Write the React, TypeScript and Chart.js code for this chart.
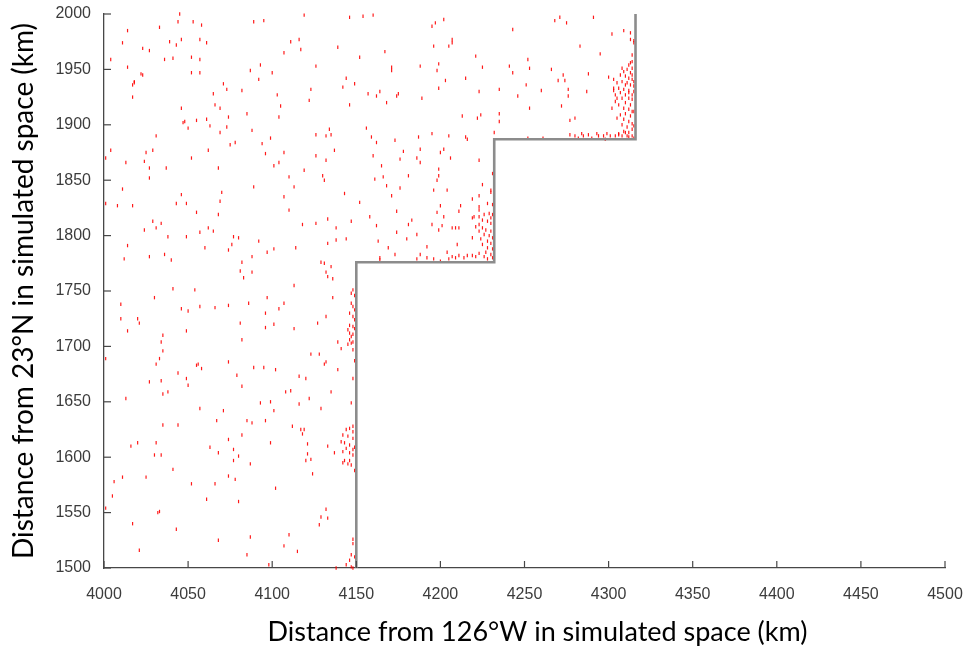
import React, { useEffect, useRef } from "react";
import { Chart, registerables } from "chart.js";

Chart.register(...registerables);

// Axis extents and tick spacing (km)
const EAST_MIN = 4000;
const EAST_MAX = 4500;
const NORTH_MIN = 1500;
const NORTH_MAX = 2000;
const TICK_STEP = 50;

const X_TITLE = "Distance from 126°W in simulated space (km)";
const Y_TITLE = "Distance from 23°N in simulated space (km)";

// Stepped coastline (east km, north km)
const coastEast = [4150, 4150, 4232, 4232, 4316, 4316];
const coastNorth = [1500, 1776, 1776, 1887, 1887, 2000];

// Positions as [east km, north km]
// Scattered positions, western upper half
const inlandNorthWest: [number, number][] = [
  [4045, 2000], [4044, 1993], [4053, 1993], [4058, 1990], [4089, 1993], [4095, 1994], [4014, 1985], [4033, 1988],
  [4011, 1974], [4039, 1975], [4046, 1977], [4043, 1972], [4057, 1977], [4061, 1974], [4023, 1969], [4027, 1967],
  [4004, 1959], [4036, 1959], [4041, 1960], [4052, 1961], [4057, 1959], [4014, 1952], [4022, 1946], [4023, 1945],
  [4052, 1947], [4057, 1947], [4087, 1949], [4093, 1954], [4100, 1947], [4018, 1939], [4018, 1938], [4017, 1936],
  [4092, 1941], [4071, 1937], [4073, 1932], [4082, 1931], [4017, 1925], [4065, 1928], [4103, 1927], [4066, 1918],
  [4069, 1915], [4046, 1915], [4085, 1910], [4074, 1907], [4061, 1905], [4055, 1904], [4048, 1903], [4047, 1902],
  [4063, 1899], [4073, 1898], [4050, 1897], [4069, 1893], [4088, 1895], [4104, 1907], [4031, 1890], [4078, 1884],
  [4075, 1882], [4094, 1883], [4099, 1888], [4004, 1877], [4001, 1870], [4025, 1875], [4029, 1877], [4062, 1877],
  [4052, 1870], [4096, 1874], [4013, 1866], [4024, 1867], [4027, 1861], [4037, 1861], [4068, 1861], [4101, 1863],
  [4104, 1866], [4027, 1852], [4011, 1842], [4089, 1844], [4070, 1839], [4046, 1837], [4001, 1829], [4008, 1827],
  [4017, 1827], [4043, 1829], [4049, 1829], [4069, 1831], [4055, 1821], [4068, 1819], [4029, 1813], [4034, 1811],
  [4024, 1805], [4031, 1807], [4057, 1803], [4062, 1807], [4065, 1804], [4038, 1799], [4049, 1799], [4077, 1799],
  [4080, 1798], [4092, 1795], [4014, 1791], [4060, 1789], [4076, 1792], [4074, 1787], [4097, 1785], [4101, 1788],
  [4012, 1779], [4027, 1781], [4036, 1783], [4040, 1778], [4088, 1781], [4082, 1776], [4088, 1767], [4081, 1768],
  [4083, 1762],
];

// Scattered positions, western lower half
const inlandSouthWest: [number, number][] = [
  [4041, 1752], [4054, 1751], [4030, 1744], [4010, 1738], [4046, 1734], [4050, 1732], [4057, 1736], [4066, 1735],
  [4074, 1737], [4086, 1739], [4097, 1744], [4104, 1734], [4096, 1730], [4010, 1725], [4020, 1725], [4021, 1721],
  [4014, 1714], [4035, 1710], [4049, 1714], [4081, 1721], [4096, 1717], [4101, 1720], [4082, 1706], [4034, 1704],
  [4035, 1696], [4001, 1689], [4033, 1689], [4031, 1684], [4055, 1683], [4056, 1684], [4058, 1680], [4074, 1686],
  [4089, 1681], [4095, 1681], [4102, 1679], [4044, 1676], [4079, 1674], [4049, 1671], [4027, 1668], [4034, 1669],
  [4050, 1665], [4082, 1664], [4038, 1659], [4035, 1657], [4013, 1653], [4093, 1649], [4099, 1650], [4101, 1642],
  [4057, 1644], [4071, 1642], [4067, 1633], [4085, 1633], [4088, 1631], [4096, 1633], [4035, 1629], [4044, 1629],
  [4082, 1620], [4074, 1616], [4099, 1613], [4016, 1610], [4020, 1613], [4031, 1613], [4063, 1609], [4077, 1607],
  [4068, 1604], [4080, 1601], [4030, 1602], [4034, 1602], [4077, 1597], [4087, 1594], [4041, 1589], [4006, 1578],
  [4011, 1582], [4025, 1582], [4074, 1583], [4078, 1580], [4052, 1576], [4066, 1576], [4102, 1572], [4005, 1565],
  [4061, 1562], [4080, 1560], [4001, 1554], [4032, 1550], [4033, 1551], [4017, 1540], [4043, 1535], [4087, 1528],
  [4068, 1525], [4021, 1516], [4085, 1512], [4098, 1503],
];

// Scattered positions, central band above the middle step
const inlandCentral: [number, number][] = [
  [4119, 1999], [4146, 1997], [4154, 1998], [4160, 1999], [4202, 1995], [4197, 1992], [4195, 1989], [4207, 1977],
  [4207, 1974], [4205, 1971], [4196, 1971], [4111, 1975], [4116, 1977], [4107, 1965], [4117, 1968], [4139, 1970],
  [4167, 1966], [4152, 1961], [4126, 1953], [4171, 1952], [4171, 1949], [4188, 1953], [4199, 1955], [4198, 1949],
  [4203, 1940], [4144, 1942], [4149, 1937], [4142, 1934], [4123, 1932], [4122, 1922], [4157, 1928], [4162, 1926],
  [4164, 1930], [4174, 1926], [4175, 1928], [4168, 1920], [4189, 1924], [4199, 1933], [4105, 1917], [4146, 1918],
  [4134, 1896], [4126, 1891], [4132, 1890], [4135, 1891], [4156, 1897], [4159, 1889], [4162, 1884], [4173, 1886],
  [4187, 1889], [4195, 1892], [4205, 1890], [4107, 1875], [4126, 1872], [4132, 1868], [4137, 1877], [4160, 1872],
  [4178, 1876], [4176, 1869], [4188, 1878], [4186, 1870], [4188, 1866], [4202, 1878], [4200, 1875], [4206, 1870],
  [4119, 1859], [4130, 1854], [4131, 1850], [4110, 1853], [4113, 1844], [4165, 1863], [4161, 1851], [4166, 1853],
  [4168, 1845], [4181, 1854], [4176, 1843], [4199, 1860], [4199, 1854], [4198, 1850], [4196, 1841], [4204, 1841],
  [4107, 1835], [4143, 1838], [4152, 1830], [4171, 1836], [4110, 1823], [4174, 1822], [4200, 1827], [4198, 1821],
  [4211, 1822], [4118, 1810], [4126, 1811], [4133, 1815], [4138, 1807], [4147, 1813], [4158, 1817], [4162, 1809],
  [4181, 1810], [4183, 1814], [4195, 1810], [4199, 1805], [4201, 1809], [4202, 1817], [4207, 1807], [4209, 1807],
  [4211, 1807], [4174, 1803], [4138, 1796], [4144, 1797], [4133, 1793], [4163, 1795], [4180, 1797], [4186, 1801],
  [4114, 1789], [4169, 1789], [4192, 1790], [4204, 1785], [4210, 1792], [4173, 1783], [4188, 1783], [4186, 1779],
  [4192, 1780], [4196, 1779], [4200, 1777], [4205, 1779], [4207, 1781], [4209, 1780], [4211, 1782], [4164, 1780],
  [4164, 1778], [4129, 1776], [4131, 1775], [4135, 1772], [4132, 1767], [4133, 1763],
];

// Scattered positions, north-east strip
const inlandNorthEast: [number, number][] = [
  [4268, 1994], [4271, 1997], [4275, 1992], [4291, 1997], [4243, 1986], [4302, 1982], [4309, 1985], [4313, 1983],
  [4313, 1977], [4315, 1976], [4315, 1974], [4283, 1971], [4295, 1964], [4221, 1962], [4252, 1959], [4225, 1952],
  [4241, 1953], [4253, 1951], [4243, 1947], [4266, 1950], [4215, 1942], [4270, 1940], [4273, 1945], [4274, 1940],
  [4288, 1946], [4300, 1943], [4251, 1936], [4235, 1932], [4223, 1930], [4260, 1931], [4276, 1932], [4276, 1926],
  [4287, 1930], [4246, 1926], [4272, 1917], [4253, 1915], [4213, 1908], [4222, 1906], [4224, 1909], [4235, 1910],
  [4235, 1903], [4277, 1904], [4280, 1906], [4232, 1893], [4215, 1889], [4216, 1887], [4252, 1888], [4261, 1888],
  [4277, 1891], [4280, 1890], [4282, 1888], [4284, 1892], [4285, 1890], [4288, 1891], [4290, 1888], [4293, 1892],
  [4294, 1890], [4297, 1890], [4299, 1892], [4301, 1890], [4304, 1890], [4306, 1892], [4308, 1890], [4310, 1893],
  [4312, 1889], [4315, 1888], [4298, 1887],
];

// Dense group against the northern coast segment
const shoreClusterNorth: [number, number][] = [
  [4314, 1963], [4314, 1957], [4313, 1956], [4312, 1954], [4314, 1951], [4311, 1950], [4309, 1948], [4313, 1947],
  [4314, 1945], [4307, 1945], [4310, 1944], [4312, 1942], [4314, 1941], [4303, 1941], [4305, 1938], [4308, 1939],
  [4311, 1938], [4313, 1936], [4315, 1935], [4306, 1933], [4309, 1932], [4312, 1931], [4303, 1931], [4307, 1929],
  [4310, 1927], [4314, 1927], [4304, 1927], [4308, 1924], [4312, 1924], [4314, 1923], [4304, 1921], [4310, 1920],
  [4313, 1918], [4306, 1918], [4309, 1915], [4312, 1914], [4314, 1912], [4307, 1909], [4310, 1910], [4313, 1908],
  [4309, 1905], [4312, 1903], [4314, 1901], [4308, 1900], [4311, 1898], [4314, 1896], [4309, 1894], [4312, 1893],
  [4306, 1891], [4314, 1890], [4311, 1890], [4302, 1915], [4305, 1906], [4303, 1933], [4308, 1951], [4315, 1930],
  [4315, 1912], [4315, 1899], [4315, 1939], [4310, 1936], [4305, 1924], [4312, 1929],
];

// Dense group against the middle coast segment
const shoreClusterMiddle: [number, number][] = [
  [4231, 1856], [4230, 1841], [4230, 1839], [4225, 1846], [4223, 1836], [4219, 1833], [4228, 1829], [4231, 1828],
  [4220, 1817], [4219, 1816], [4223, 1817], [4226, 1819], [4229, 1820], [4231, 1819], [4225, 1814], [4228, 1813],
  [4230, 1811], [4232, 1810], [4223, 1810], [4225, 1807], [4227, 1805], [4230, 1804], [4232, 1805], [4223, 1804],
  [4226, 1801], [4229, 1800], [4231, 1798], [4219, 1798], [4224, 1797], [4228, 1795], [4230, 1793], [4225, 1792],
  [4228, 1789], [4231, 1788], [4227, 1785], [4230, 1783], [4223, 1784], [4226, 1781], [4231, 1780], [4228, 1779],
  [4232, 1778], [4221, 1781], [4219, 1782], [4216, 1782], [4214, 1780], [4223, 1826], [4230, 1816], [4223, 1823],
  [4221, 1808], [4223, 1868], [4212, 1827],
];

// Scattered positions west of the southern coast segment
const inlandSouthCentral: [number, number][] = [
  [4136, 1761], [4113, 1755], [4136, 1744], [4107, 1739], [4132, 1727], [4127, 1721], [4113, 1716], [4139, 1704],
  [4141, 1698], [4123, 1693], [4128, 1693], [4131, 1684], [4132, 1686], [4139, 1679], [4116, 1673], [4120, 1671],
  [4108, 1659], [4111, 1660], [4135, 1659], [4122, 1653], [4116, 1648], [4129, 1644], [4147, 1649], [4112, 1628],
  [4117, 1625], [4118, 1621], [4119, 1625], [4121, 1612], [4133, 1610], [4137, 1604], [4121, 1603], [4123, 1598],
  [4120, 1597], [4124, 1585], [4132, 1553], [4129, 1546], [4133, 1545], [4128, 1539], [4110, 1530], [4107, 1520],
  [4115, 1515], [4138, 1500],
];

// Dense groups against the southern coast segment
const shoreClusterSouth: [number, number][] = [
  [4148, 1751], [4147, 1748], [4149, 1746], [4147, 1739], [4148, 1736], [4149, 1733], [4146, 1730], [4148, 1727],
  [4149, 1724], [4146, 1719], [4148, 1718], [4149, 1716], [4145, 1715], [4146, 1712], [4148, 1711], [4147, 1709],
  [4146, 1706], [4148, 1704], [4145, 1702], [4147, 1703], [4148, 1697], [4149, 1687], [4148, 1671], [4150, 1715],
  [4148, 1628], [4146, 1626], [4144, 1625], [4148, 1623], [4142, 1620], [4145, 1619], [4148, 1617], [4141, 1614],
  [4143, 1613], [4146, 1611], [4149, 1609], [4144, 1608], [4148, 1607], [4142, 1605], [4146, 1604], [4148, 1602],
  [4143, 1597], [4146, 1597], [4150, 1596], [4147, 1593], [4149, 1588], [4142, 1595], [4145, 1594],
  [4150, 1529], [4148, 1526], [4148, 1522], [4147, 1512], [4149, 1510], [4146, 1507], [4150, 1504], [4144, 1503],
  [4147, 1501], [4148, 1500],
];

const AXIS_COLOR = "#474747";
const TICK_LABEL_COLOR = "#3c3c3c";
const TICK_FONT = { family: "'Liberation Sans', Arial, sans-serif", size: 16 };

// Short tick marks pointing into the plotting area
const inwardTicks = {
  id: "inwardTicks",
  afterDraw(chart: any) {
    const { ctx, scales } = chart;
    const xs = scales.x;
    const ys = scales.y;
    ctx.save();
    ctx.strokeStyle = AXIS_COLOR;
    ctx.lineWidth = 1.2;
    xs.ticks.forEach((t: any) => {
      const px = xs.getPixelForValue(t.value);
      ctx.beginPath();
      ctx.moveTo(px, xs.top);
      ctx.lineTo(px, xs.top - 7);
      ctx.stroke();
    });
    ys.ticks.forEach((t: any) => {
      const py = ys.getPixelForValue(t.value);
      ctx.beginPath();
      ctx.moveTo(ys.right, py);
      ctx.lineTo(ys.right + 7, py);
      ctx.stroke();
    });
    ctx.restore();
  },
};

// Axis titles in a large humanist face
const axisTitles = {
  id: "axisTitles",
  afterDraw(chart: any) {
    const { ctx, chartArea } = chart;
    ctx.save();
    ctx.fillStyle = "#000";
    ctx.textAlign = "center";
    ctx.textBaseline = "alphabetic";
    ctx.font = "27px Lato, 'Open Sans', sans-serif";
    ctx.fillText(X_TITLE, (chartArea.left + chartArea.right) / 2 + 13, 641);
    ctx.font = "28px Lato, 'Open Sans', sans-serif";
    ctx.translate(33, (chartArea.top + chartArea.bottom) / 2);
    ctx.rotate(-Math.PI / 2);
    ctx.fillText(Y_TITLE, 0, 0);
    ctx.restore();
  },
};

const plainNumber = (value: any) => String(value);

export default function App() {
  const canvasRef = useRef<HTMLCanvasElement | null>(null);

  useEffect(() => {
    const canvas = canvasRef.current;
    if (!canvas) return;

    const positions = [
      ...inlandNorthWest,
      ...inlandSouthWest,
      ...inlandCentral,
      ...inlandNorthEast,
      ...shoreClusterNorth,
      ...shoreClusterMiddle,
      ...inlandSouthCentral,
      ...shoreClusterSouth,
    ].map(([x, y]) => ({ x, y }));

    const coast = coastEast.map((x, i) => ({ x, y: coastNorth[i] }));

    const chart = new Chart(canvas, {
      type: "scatter",
      data: {
        datasets: [
          {
            label: "Coastline",
            data: coast,
            showLine: true,
            borderColor: "#8c8c8c",
            borderWidth: 2.6,
            pointRadius: 0,
            fill: false,
            tension: 0,
          } as any,
          {
            label: "Positions",
            data: positions,
            pointStyle: "line",
            rotation: 90,
            pointRadius: 1.7,
            borderColor: "rgba(255, 0, 0, 0.9)",
            backgroundColor: "rgba(255, 0, 0, 0.9)",
            borderWidth: 1.2,
            clip: false,
          } as any,
        ],
      },
      options: {
        responsive: false,
        animation: false,
        events: [],
        layout: { padding: { top: 14, right: 20, left: 0, bottom: 0 } },
        plugins: {
          legend: { display: false },
          tooltip: { enabled: false },
          title: { display: false },
        },
        scales: {
          x: {
            type: "linear",
            min: EAST_MIN,
            max: EAST_MAX,
            grid: { display: false },
            border: { display: true, color: AXIS_COLOR, width: 1.3 },
            ticks: {
              stepSize: TICK_STEP,
              color: TICK_LABEL_COLOR,
              font: TICK_FONT,
              padding: 9,
              maxRotation: 0,
              autoSkip: false,
              callback: plainNumber,
            },
            afterFit(scale: any) {
              scale.height = 82;
              scale.paddingLeft = 0;
              scale.paddingRight = 0;
            },
          },
          y: {
            type: "linear",
            min: NORTH_MIN,
            max: NORTH_MAX,
            grid: { display: false },
            border: { display: true, color: AXIS_COLOR, width: 1.3 },
            ticks: {
              stepSize: TICK_STEP,
              color: TICK_LABEL_COLOR,
              font: TICK_FONT,
              padding: 5,
              autoSkip: false,
              callback: plainNumber,
            },
            afterFit(scale: any) {
              scale.width = 104;
              scale.paddingTop = 0;
              scale.paddingBottom = 0;
            },
          },
        },
      },
      plugins: [inwardTicks, axisTitles],
    });

    return () => chart.destroy();
  }, []);

  return (
    <div
      style={{
        position: "absolute",
        left: 0,
        top: 0,
        width: 965,
        height: 650,
        background: "#ffffff",
        overflow: "hidden",
      }}
    >
      <canvas ref={canvasRef} width={965} height={650} style={{ display: "block" }} />
    </div>
  );
}
